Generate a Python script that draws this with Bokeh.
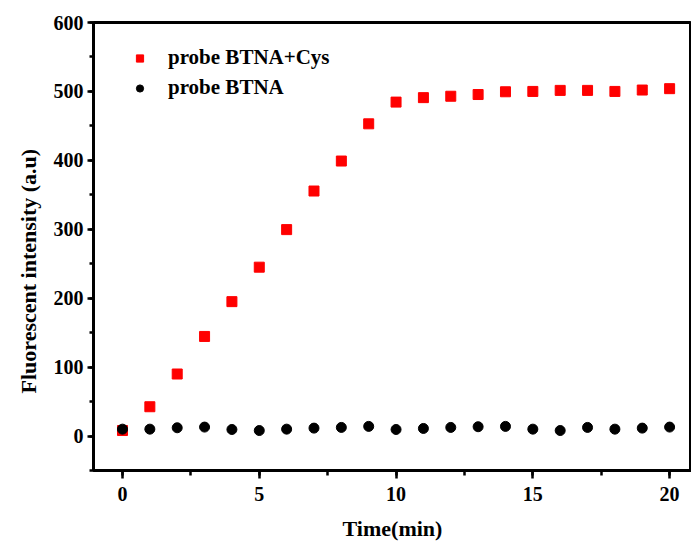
from bokeh.plotting import figure
from bokeh.models import Legend, LegendItem, SingleIntervalTicker, Range1d, Title
from bokeh.embed import file_html
from bokeh.resources import INLINE

# Data
time_min = list(range(21))
btna_cys = [8, 42.5, 90, 144.5, 195, 245, 299.5, 355.5, 399, 453, 484.5, 491, 493,
            495.5, 499.5, 500, 501.5, 501.5, 500, 502, 504]
btna = [10, 10, 12, 13, 9.5, 8, 10, 11.5, 12.5, 14, 9.5, 11, 12.5, 13.5, 14, 10, 8,
        12.5, 10, 11.5, 13]
label_cys = "probe BTNA+Cys"
label_btna = "probe BTNA"
x_title = "Time(min)"
y_title = "Fluorescent intensity (a.u)"

FONT = "Liberation Serif"

p = figure(width=691, height=547, output_backend="svg", toolbar_location=None,
           x_range=Range1d(-1.06, 20.8), y_range=Range1d(-50, 600),
           min_border_left=93, min_border_right=0, min_border_top=22, min_border_bottom=77)
p.outline_line_color = "black"
p.outline_line_width = 3
p.grid.grid_line_color = None
p.background_fill_color = "white"

r1 = p.scatter(time_min, btna_cys, marker="square", size=10, fill_color="#ff0000", line_color="#ff0000")
r2 = p.scatter(time_min, btna, marker="circle", size=10, fill_color="black", line_color="black")

for ax in (p.xaxis[0], p.yaxis[0]):
    ax.axis_line_width = 3
    ax.axis_line_color = "black"
    ax.major_tick_line_width = 2.5
    ax.minor_tick_line_width = 2.5
    ax.major_tick_in = 0
    ax.minor_tick_in = 0
    ax.major_label_text_font = FONT
    ax.major_label_text_font_style = "bold"
    ax.major_label_text_font_size = "20px"
    ax.major_label_text_color = "black"
    ax.axis_label_text_font = FONT
    ax.axis_label_text_font_style = "bold"
    ax.axis_label_text_font_size = "22px"
    ax.axis_label_text_color = "black"

p.xaxis[0].ticker = SingleIntervalTicker(interval=5, num_minor_ticks=2)
p.yaxis[0].ticker = SingleIntervalTicker(interval=100, num_minor_ticks=2)
p.xaxis[0].major_tick_out = 8
p.xaxis[0].minor_tick_out = 5
p.yaxis[0].major_tick_out = 6
p.yaxis[0].minor_tick_out = 4
p.xaxis[0].major_label_standoff = 8
p.yaxis[0].major_label_standoff = 4
p.xaxis[0].axis_label = x_title
p.xaxis[0].axis_label_standoff = 12

# y-axis title, a little below the frame centre as in the reference
p.add_layout(Title(text=y_title, align="left", offset=77, standoff=20,
                   text_font=FONT, text_font_style="bold", text_font_size="22px",
                   text_color="black"), "left")

legend = Legend(items=[LegendItem(label=label_cys, renderers=[r1]),
                       LegendItem(label=label_btna, renderers=[r2])],
                location="top_left", margin=23, padding=0, spacing=5,
                glyph_width=47, glyph_height=18, label_standoff=5,
                label_text_font=FONT, label_text_font_style="bold",
                label_text_font_size="21px", label_text_color="black",
                border_line_color=None, background_fill_alpha=0)
p.add_layout(legend)

open("out.html", "w").write(file_html(p, INLINE))
